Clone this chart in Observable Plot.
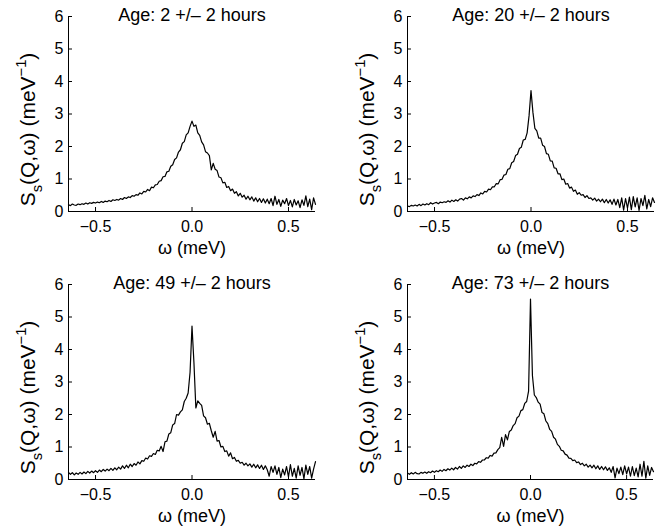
<!DOCTYPE html>
<html><head><meta charset="utf-8">
<script src="https://cdn.jsdelivr.net/npm/d3@7"></script>
<script src="https://cdn.jsdelivr.net/npm/@observablehq/plot@0.6"></script>
<style>
body{margin:0;background:#fff;}
#wrap{position:relative;width:659px;height:531px;overflow:hidden;font-family:"Liberation Sans",Arial,Helvetica,sans-serif;}
.panel{position:absolute;}
</style></head><body><div id="wrap"></div>
<script>
// energy transfer grid (meV), 0.01 meV steps
const omega = d3.range(-64, 65).map(i => i / 100);
const ages = [2, 20, 49, 73];
const titles = ages.map(a => `Age: ${a} +/\u2013 2 hours`);
const xTicks = [-0.5, 0, 0.5];
const yTicks = [0, 1, 2, 3, 4, 5, 6];

const s2h = [0.21,0.18,0.23,0.20,0.19,0.23,0.21,0.24,0.22,0.26,
0.23,0.27,0.25,0.28,0.26,0.29,0.27,0.31,0.28,0.32,
0.30,0.34,0.31,0.36,0.34,0.37,0.35,0.40,0.37,0.43,
0.40,0.45,0.43,0.49,0.47,0.52,0.50,0.57,0.54,0.62,
0.60,0.68,0.64,0.75,0.73,0.82,0.83,0.93,0.95,1.07,
1.08,1.22,1.24,1.39,1.44,1.60,1.65,1.83,1.90,2.10,
2.15,2.36,2.42,2.62,
2.78,
2.62,2.66,2.42,2.34,2.14,2.05,1.84,1.80,1.72,1.28,
1.48,1.30,1.26,1.06,1.04,0.88,0.90,0.74,0.77,0.64,
0.69,0.56,0.61,0.48,0.56,0.44,0.50,0.38,0.47,0.36,
0.45,0.32,0.42,0.30,0.40,0.28,0.39,0.26,0.38,0.24,
0.40,0.18,0.47,0.22,0.37,0.16,0.35,0.24,0.40,0.18,
0.34,0.14,0.37,0.20,0.33,0.12,0.36,0.19,0.48,0.15,
0.38,0.06,0.42,0.22];

const s20h = [0.17,0.15,0.19,0.17,0.20,0.17,0.22,0.18,0.23,0.20,
0.24,0.21,0.27,0.23,0.26,0.28,0.24,0.29,0.27,0.30,
0.28,0.33,0.29,0.35,0.31,0.36,0.32,0.38,0.40,0.35,
0.42,0.39,0.45,0.42,0.48,0.46,0.52,0.49,0.57,0.54,
0.62,0.60,0.69,0.67,0.76,0.76,0.86,0.85,0.98,0.99,
1.12,1.14,1.30,1.32,1.50,1.54,1.72,1.76,1.94,1.98,
2.20,2.22,2.42,2.95,
3.72,
3.05,2.56,2.48,2.26,2.26,2.04,2.00,1.78,1.76,1.56,
1.55,1.34,1.33,1.16,1.16,0.98,1.00,0.84,0.86,0.72,
0.75,0.62,0.66,0.53,0.58,0.50,0.52,0.43,0.49,0.40,
0.42,0.35,0.41,0.32,0.38,0.30,0.38,0.27,0.37,0.26,
0.36,0.22,0.38,0.20,0.37,0.12,0.42,0.04,0.40,0.10,
0.44,0.06,0.46,0.14,0.42,0.03,0.40,0.18,0.50,0.08,
0.37,0.15,0.42,0.28];

const s49h = [0.22,0.16,0.21,0.14,0.20,0.16,0.22,0.17,0.23,0.18,
0.25,0.20,0.26,0.21,0.27,0.22,0.29,0.24,0.31,0.26,
0.32,0.27,0.34,0.28,0.36,0.30,0.38,0.32,0.42,0.34,
0.44,0.36,0.47,0.40,0.49,0.44,0.54,0.48,0.58,0.56,
0.66,0.63,0.73,0.71,0.80,0.77,0.90,0.88,1.02,0.86,
1.16,1.18,1.40,1.44,1.68,1.72,2.00,1.98,2.08,2.14,
2.40,2.50,2.66,3.30,
4.72,
3.60,2.20,2.42,2.34,2.28,1.96,1.90,1.70,1.73,1.50,
1.30,1.48,1.18,1.20,1.00,1.02,0.86,0.88,0.72,0.82,
0.64,0.68,0.56,0.59,0.50,0.53,0.44,0.50,0.42,0.48,
0.38,0.47,0.36,0.45,0.34,0.44,0.31,0.42,0.30,0.10,
0.40,0.22,0.42,0.16,0.37,0.06,0.32,0.14,0.40,0.08,
0.46,0.10,0.34,0.04,0.42,0.13,0.37,0.02,0.44,0.16,
0.40,0.04,0.32,0.55];

const s73h = [0.20,0.16,0.21,0.17,0.22,0.18,0.17,0.22,0.19,0.23,
0.19,0.24,0.21,0.26,0.22,0.27,0.24,0.29,0.25,0.31,
0.27,0.33,0.29,0.35,0.30,0.37,0.32,0.40,0.34,0.42,
0.37,0.44,0.40,0.47,0.43,0.50,0.48,0.55,0.53,0.60,
0.60,0.67,0.66,0.74,0.72,0.81,0.82,0.92,0.98,1.30,
1.02,1.38,1.22,1.48,1.52,1.66,1.72,1.90,1.95,2.12,
2.15,2.34,2.40,2.72,
5.55,
3.20,2.60,2.52,2.38,2.32,2.06,2.02,1.80,1.72,1.54,
1.48,1.30,1.24,1.08,1.02,0.90,0.88,0.78,0.75,0.66,
0.65,0.58,0.60,0.52,0.54,0.46,0.50,0.42,0.47,0.38,
0.44,0.36,0.44,0.33,0.42,0.31,0.40,0.30,0.39,0.28,
0.36,0.22,0.40,0.05,0.35,0.18,0.38,0.15,0.42,0.17,
0.38,0.10,0.40,0.12,0.35,0.08,0.47,0.10,0.56,0.04,
0.42,0.13,0.37,0.24];

const series = [s2h, s20h, s49h, s73h];

const layouts = [
  {left:0,   top:0,   width:330, height:265, ml:68, mr:15, mt:16, mb:54},
  {left:330, top:0,   width:329, height:265, ml:77, mr:5,  mt:16, mb:54},
  {left:0,   top:265, width:330, height:266, ml:68, mr:15, mt:19, mb:52},
  {left:330, top:265, width:329, height:266, ml:77, mr:6,  mt:19, mb:52}
];
const xDomain = [-0.64, 0.64];
const wrap = document.getElementById("wrap");

layouts.forEach((L, k) => {
  const fw = L.width - L.ml - L.mr, fh = L.height - L.mt - L.mb;
  const data = omega.map((w, i) => ({w, s: series[k][i]}));
  const svg = Plot.plot({
    width: L.width, height: L.height,
    marginLeft: L.ml, marginRight: L.mr, marginTop: L.mt, marginBottom: L.mb,
    style: {fontFamily: '"Liberation Sans", Arial, sans-serif', fontSize: "16px", color: "#000", background: "transparent", overflow: "visible"},
    x: {domain: xDomain, ticks: xTicks, tickSize: 0, tickPadding: 9, label: null},
    y: {domain: [0, 6], ticks: yTicks, tickSize: 0, tickPadding: 5, label: null, tickFormat: d3.format("d")},
    marks: [
      Plot.ruleX(xTicks, {x: d => d, insetTop: fh - 4, stroke: "#000"}),
      Plot.ruleY(yTicks, {y: d => d, insetRight: fw - 4, stroke: "#000"}),
      Plot.ruleY([0], {stroke: "#000"}),
      Plot.ruleX([xDomain[0]], {stroke: "#000"}),
      Plot.line(data, {x: "w", y: "s", stroke: "#000", strokeWidth: 1.2}),
      Plot.text([titles[k]], {text: d => d, frameAnchor: "top", dy: 4, lineAnchor: "bottom", fontSize: 18, fill: "#000"}),
      Plot.text(["\u03c9 (meV)"], {text: d => d, frameAnchor: "bottom", dy: 42, lineAnchor: "bottom", fontSize: 18, fill: "#000"})
    ]
  });
  const t = d3.select(svg).append("text")
    .attr("transform", `translate(${L.ml - 33},${L.mt + fh / 2 + 16}) rotate(-90)`)
    .attr("text-anchor", "middle").attr("font-size", 21).attr("fill", "#000");
  t.append("tspan").text("S");
  t.append("tspan").attr("dy", "0.45em").attr("font-size", "0.7em").text("s");
  t.append("tspan").attr("dy", "-0.315em").text("(Q,\u03c9) (meV");
  t.append("tspan").attr("dy", "-0.6em").attr("font-size", "0.7em").text("\u22121");
  t.append("tspan").attr("dy", "0.42em").text(")");
  const div = document.createElement("div");
  div.className = "panel";
  div.style.left = L.left + "px";
  div.style.top = L.top + "px";
  div.appendChild(svg);
  wrap.appendChild(div);
});
</script>
</body></html>
